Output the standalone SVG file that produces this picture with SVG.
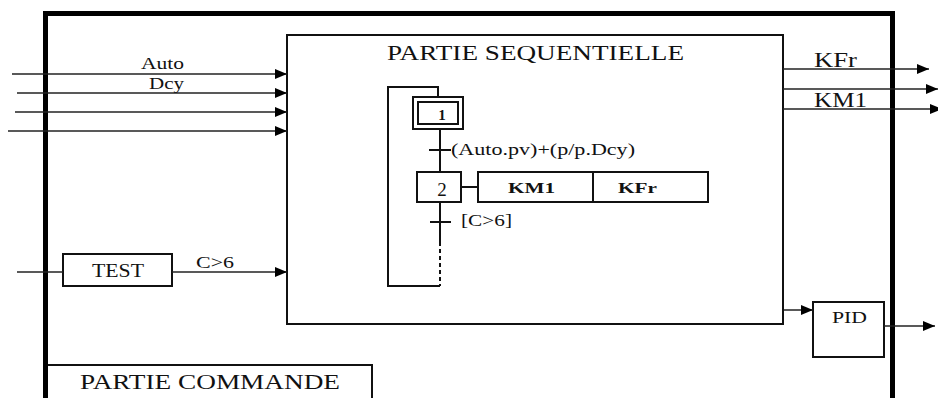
<svg xmlns="http://www.w3.org/2000/svg" width="938" height="398" viewBox="0 0 938 398">
<defs>
<style>
.t{font-family:"Liberation Serif","Times New Roman",serif;fill:#111}
.ln{stroke:#222;stroke-width:1.5;fill:none}
.bx{stroke:#111;stroke-width:2;fill:#fff}
</style>
<marker id="ar" markerWidth="12" markerHeight="10" refX="12" refY="5" orient="auto" markerUnits="userSpaceOnUse">
<path d="M0,0 L12,5 L0,10 Z" fill="#000"/>
</marker>
</defs>
<rect width="938" height="398" fill="#fff"/>
<g id="partie-commande">
<path d="M45.5,400 V13.5 H892.5 V400" fill="none" stroke="#000" stroke-width="5"/>
<path d="M48,365 H372 V400" fill="none" stroke="#111" stroke-width="2"/>
<text class="t" x="80" y="389" font-size="21" textLength="260" lengthAdjust="spacingAndGlyphs">PARTIE COMMANDE</text>
</g>
<g id="partie-sequentielle">
<rect x="287" y="35" width="496" height="289" class="bx"/>
<text class="t" x="387" y="60" font-size="21" textLength="297" lengthAdjust="spacingAndGlyphs">PARTIE SEQUENTIELLE</text>
</g>
<g id="test">
<rect x="63" y="254" width="109" height="32" class="bx"/>
<text class="t" x="92" y="277" font-size="18" textLength="52" lengthAdjust="spacingAndGlyphs">TEST</text>
</g>
<g id="pid">
<rect x="813" y="302" width="71" height="55" class="bx"/>
<text class="t" x="832" y="323" font-size="17" textLength="35" lengthAdjust="spacingAndGlyphs">PID</text>
</g>
<g id="etape-1">
<rect x="413" y="97" width="50" height="32" fill="#fff" stroke="#111" stroke-width="2"/>
<rect x="418" y="102" width="40" height="22" fill="#fff" stroke="#111" stroke-width="2"/>
<text class="t" x="442" y="120" font-size="15" font-weight="bold" text-anchor="middle">1</text>
</g>
<g id="etape-2">
<rect x="417" y="172" width="44" height="30" class="bx"/>
<text class="t" x="442" y="196" font-size="19" text-anchor="middle">2</text>
</g>
<g id="actions">
<rect x="478" y="172" width="115" height="30" class="bx"/>
<rect x="593" y="172" width="115" height="30" class="bx"/>
<text class="t" x="508" y="193" font-size="15" font-weight="bold" textLength="47" lengthAdjust="spacingAndGlyphs">KM1</text>
<text class="t" x="618" y="193" font-size="15" font-weight="bold" textLength="39" lengthAdjust="spacingAndGlyphs">KFr</text>
</g>
<g id="connecteurs">
<line x1="12" y1="74" x2="287" y2="74" class="ln" marker-end="url(#ar)"/>
<line x1="17" y1="93" x2="287" y2="93" class="ln" marker-end="url(#ar)"/>
<line x1="15" y1="112" x2="287" y2="112" class="ln" marker-end="url(#ar)"/>
<line x1="8" y1="131" x2="287" y2="131" class="ln" marker-end="url(#ar)"/>
<line x1="17" y1="272" x2="63" y2="272" class="ln"/>
<line x1="172" y1="272" x2="287" y2="272" class="ln" marker-end="url(#ar)"/>
<line x1="783" y1="69" x2="929" y2="69" class="ln" marker-end="url(#ar)"/>
<line x1="783" y1="89" x2="938" y2="89" class="ln" marker-end="url(#ar)"/>
<line x1="783" y1="109" x2="942" y2="109" class="ln" marker-end="url(#ar)"/>
<line x1="784" y1="310" x2="813" y2="310" class="ln" marker-end="url(#ar)"/>
<line x1="884" y1="326" x2="935" y2="326" class="ln" marker-end="url(#ar)"/>
<path d="M438,97 V87 H388 V286 H440" fill="none" stroke="#111" stroke-width="2"/>
<line x1="440" y1="242" x2="440" y2="286" stroke="#111" stroke-width="2" stroke-dasharray="4,3"/>
<line x1="440" y1="129" x2="440" y2="172" stroke="#111" stroke-width="2"/>
<line x1="429" y1="150" x2="451" y2="150" stroke="#111" stroke-width="2"/>
<line x1="440" y1="202" x2="440" y2="242" stroke="#111" stroke-width="2"/>
<line x1="430" y1="222" x2="451" y2="222" stroke="#111" stroke-width="2"/>
<line x1="461" y1="187" x2="478" y2="187" stroke="#111" stroke-width="2"/>
</g>
<g id="labels">
<text class="t" x="141" y="69" font-size="16" textLength="43" lengthAdjust="spacingAndGlyphs">Auto</text>
<text class="t" x="149" y="89" font-size="16" textLength="35" lengthAdjust="spacingAndGlyphs">Dcy</text>
<text class="t" x="196" y="268" font-size="17" textLength="38" lengthAdjust="spacingAndGlyphs">C&gt;6</text>
<text class="t" x="814" y="67" font-size="20" textLength="43" lengthAdjust="spacingAndGlyphs">KFr</text>
<text class="t" x="814" y="107" font-size="20" textLength="53" lengthAdjust="spacingAndGlyphs">KM1</text>
<text class="t" x="451" y="155" font-size="17" textLength="184" lengthAdjust="spacingAndGlyphs">(Auto.pv)+(p/p.Dcy)</text>
<text class="t" x="461" y="226" font-size="16" textLength="51" lengthAdjust="spacingAndGlyphs">[C&gt;6]</text>
</g>
</svg>
